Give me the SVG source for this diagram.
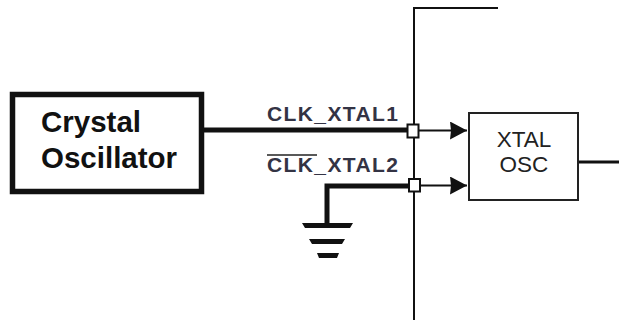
<svg xmlns="http://www.w3.org/2000/svg" width="622" height="325" viewBox="0 0 622 325">
<style>
.t{font-family:"Liberation Sans",Arial,sans-serif;fill:#111}
.l{font-size:21px;font-weight:bold;letter-spacing:1.400px;fill:#334}
.b{font-size:29.500px;font-weight:bold}
.x{font-size:22.500px;text-anchor:middle;fill:#222}
.w{fill:none;stroke:#111}
.pin{fill:#fff;stroke:#111;stroke-width:2}
</style>
<defs><marker id="a" markerUnits="userSpaceOnUse" markerWidth="18" markerHeight="18" refX="17" refY="9" orient="auto"><path d="M0 0L17 9L0 18L1 9Z" fill="#111"/></marker></defs>
<rect width="622" height="325" fill="#fff"/>
<g id="connectors">
<path class="w" stroke-width="2" d="M414 320V8H498"/>
<path class="w" stroke-width="5" d="M203 130H412"/>
<path class="w" stroke-width="2" d="M418 130.500H467" marker-end="url(#a)"/>
<path class="w" stroke-width="5" d="M327 223V186H412"/>
<path class="w" stroke-width="2" d="M418 185.500H467" marker-end="url(#a)"/>
<path class="w" stroke-width="3" d="M578 162H619"/>
</g>
<g id="crystal-oscillator">
<rect x="12.500" y="94.500" width="189" height="97" fill="#fff" stroke="#111" stroke-width="5.500"/>
<text class="t b" x="41" y="132">Crystal</text>
<text class="t b" x="41" y="168">Oscillator</text>
</g>
<g id="xtal-osc">
<rect x="469" y="113" width="109" height="87" fill="#fff" stroke="#222" stroke-width="2"/>
<text class="t x" x="524" y="147">XTAL</text>
<text class="t x" x="524" y="172">OSC</text>
</g>
<g id="clk-xtal1">
<text class="t l" x="267" y="121">CLK_XTAL1</text>
<rect class="pin" x="407.500" y="124.500" width="11" height="13"/>
</g>
<g id="clk-xtal2">
<text class="t l" x="267" y="172">CLK_XTAL2</text>
<path d="M267 155H317" stroke="#222" stroke-width="1.500"/>
<rect class="pin" x="409" y="179" width="11" height="12.500"/>
</g>
<g id="ground">
<path d="M302 223H353L350 228H305Z M309 239H345L342 244H312Z M317 253H339L337 258H319Z" fill="#111"/>
</g>
</svg>
